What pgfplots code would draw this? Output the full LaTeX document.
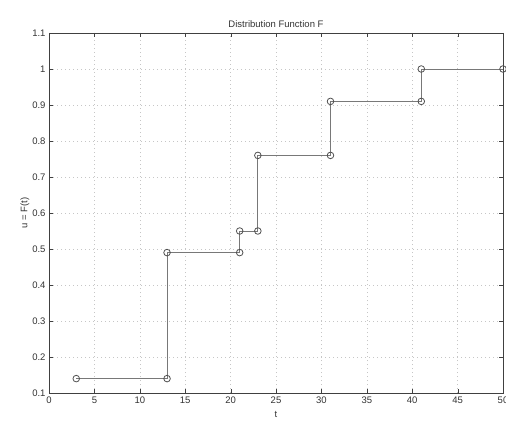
\documentclass[border=0pt]{standalone}
\usepackage{fontspec}
\setmainfont{Liberation Sans}
\usepackage{pgfplots}
\pgfplotsset{compat=1.18}
\definecolor{linegray}{RGB}{120,120,120}
\definecolor{markgray}{RGB}{80,80,80}
\begin{document}
\begin{tikzpicture}
\begin{axis}[
  name=ax,
  scale only axis,
  width=454pt, height=360pt,
  xmin=0, xmax=50, ymin=0.1, ymax=1.1,
  xtick={0,5,...,50},
  ytick={0.1,0.2,0.3,0.4,0.5,0.6,0.7,0.8,0.9,1,1.1},
  yticklabels={0.1,0.2,0.3,0.4,0.5,0.6,0.7,0.8,0.9,1,1.1},
  tick align=inside,
  tick pos=both,
  major tick length=4pt,
  grid=major,
  major grid style={dash pattern=on 0.8pt off 3.2pt, gray!45, line width=0.6pt},
  axis line style={black!75, line width=0.8pt},
  tick style={black!75},
  ticklabel style={font=\fontsize{9.5}{10}\selectfont, black!80},
  /pgf/number format/assume math mode=true,
  title={Distribution Function F},
  title style={font=\fontsize{9.5}{10}\selectfont, black!80, yshift=-4pt},
  xlabel={t},
  ylabel={u = F(t)},
  xlabel style={font=\fontsize{9.5}{10}\selectfont, black!80, yshift=-1pt},
  ylabel style={font=\fontsize{9.5}{10}\selectfont, black!80, yshift=-4pt},
  clip=false,
]
\addplot[color=linegray, line width=0.9pt, mark=o, mark size=3.3pt,
  mark options={draw=markgray, line width=0.8pt, fill=none}]
coordinates {
(3,0.14) (13,0.14) (13,0.49) (21,0.49) (21,0.55) (23,0.55)
(23,0.76) (31,0.76) (31,0.91) (41,0.91) (41,1) (50,1)
};
\end{axis}
\pgfresetboundingbox
\path ([xshift=-49pt,yshift=-27pt]ax.south west) rectangle ([xshift=3pt,yshift=33pt]ax.north east);
\end{tikzpicture}
\end{document}
